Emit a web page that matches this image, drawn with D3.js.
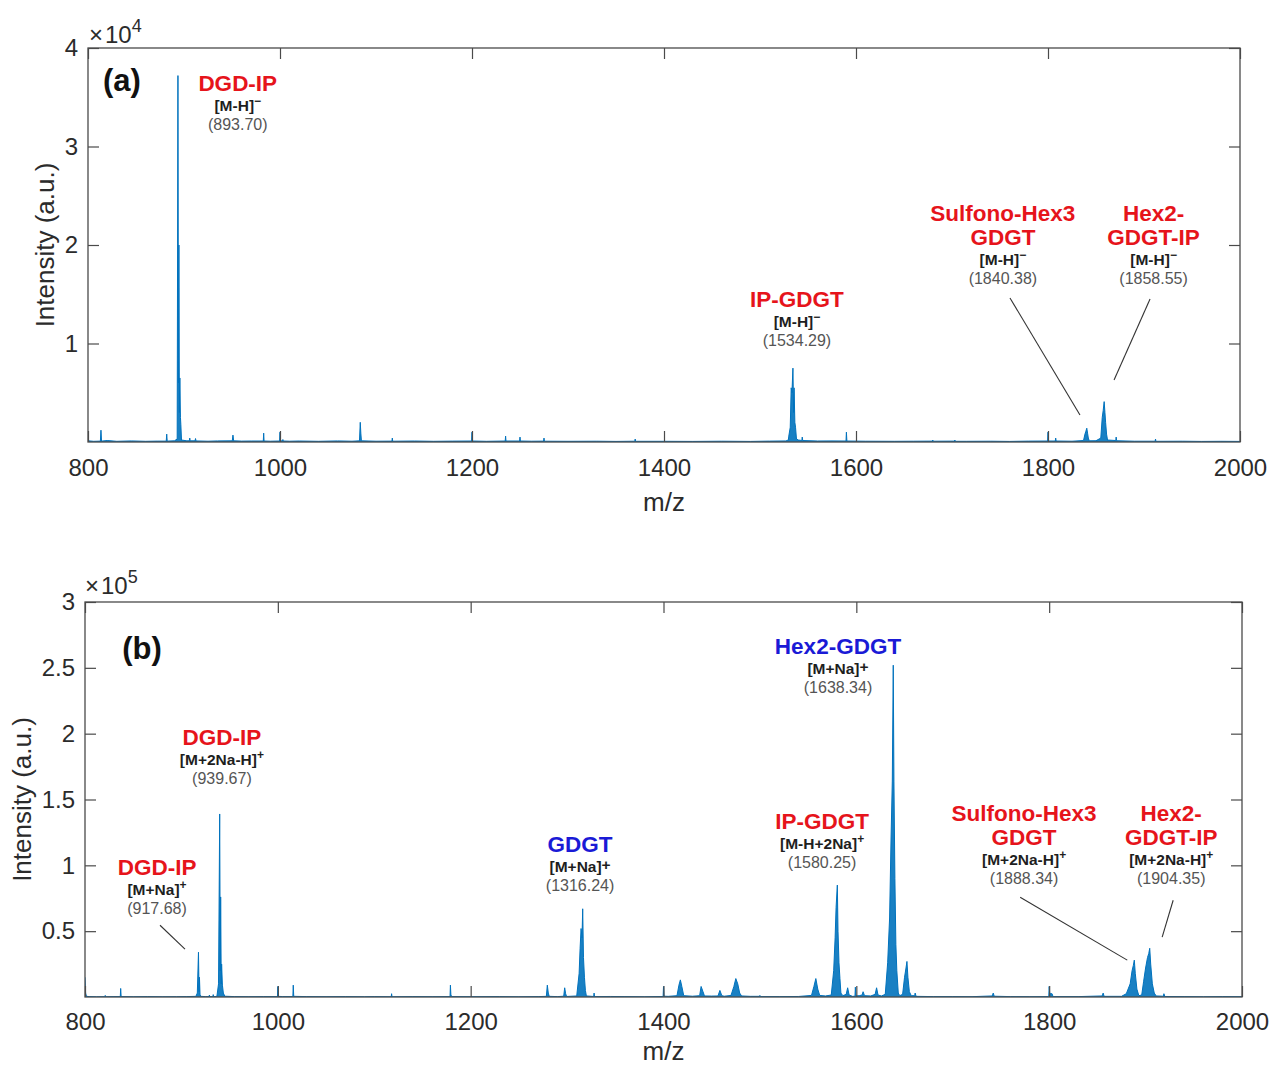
<!DOCTYPE html>
<html>
<head>
<meta charset="utf-8">
<script src="https://cdn.jsdelivr.net/npm/d3@7"></script>
<style>
  body { margin: 0; background: #fff; }
  text { font-family: "Liberation Sans", Arial, Helvetica, sans-serif; }
</style>
</head>
<body>
<svg id="fig" width="1271" height="1068"></svg>
<script>
// ---------------------------------------------------------------
// Spectrum (a), negative ion mode: [m/z, intensity]
const spectrumA = [
  [800,120],[806,70],[812.9,90],[813.5,1200],[814.1,90],[820,150],[830,70],[845,110],
  [860,70],[872,90],[881.5,90],[882,800],[882.5,90],[890,120],[892.9,300],
  [893.7,37200],[894.2,6000],[894.7,20000],[895.2,3000],[895.7,6500],[896.3,2500],
  [896.7,1800],[897.4,200],[903,120],[905.5,120],[906,400],[906.5,120],[911.5,120],
  [912,350],[912.5,110],[925,80],[935,110],[950.3,120],[951,700],[951.7,120],[960,90],
  [970,100],[982.6,100],[983,900],[983.4,100],[990,80],[999.6,100],[1000,1000],
  [1000.4,120],[1002.6,110],[1003,250],[1003.4,100],[1010,80],[1020,100],[1040,70],
  [1060,110],[1075,80],[1082.8,120],[1083.6,2000],[1084.2,900],[1084.8,120],[1100,80],
  [1116.6,90],[1117,400],[1117.4,80],[1140,100],[1160,70],[1180,90],[1199.6,100],
  [1200,1000],[1200.4,100],[1215,70],[1234.6,100],[1235,600],[1235.4,100],[1249.6,100],
  [1250,500],[1250.4,100],[1262,80],[1274.6,90],[1275,400],[1275.4,80],[1300,70],
  [1330,80],[1350,60],[1369.6,80],[1370,300],[1370.4,70],[1400,70],[1430,60],[1460,80],
  [1490,60],[1510,90],[1527,110],[1529.5,200],[1530,600],[1531.5,1500],[1532.5,5500],
  [1533.3,5000],[1534.3,7500],[1535,3000],[1535.5,5500],[1536.3,2000],[1537,1500],
  [1538,300],[1540,200],[1543.6,150],[1544,500],[1544.5,150],[1560,100],[1575,110],
  [1589.6,100],[1590,1000],[1590.5,100],[1610,80],[1640,70],[1660,80],[1679.6,90],
  [1680,200],[1680.4,80],[1702.6,90],[1703,200],[1703.4,70],[1715,70],[1740,80],
  [1760,60],[1780,90],[1799.6,100],[1800,1000],[1800.5,100],[1807.6,100],[1808,400],
  [1808.5,100],[1825,80],[1837,150],[1838.5,800],[1839.5,1100],[1840.4,1400],
  [1841.2,900],[1842,400],[1843,120],[1850,130],[1855,400],[1856.5,2500],[1857.5,3200],
  [1858.5,4100],[1859.3,3000],[1860,2000],[1861,800],[1862,200],[1870.6,150],
  [1871,500],[1871.5,130],[1890,80],[1911.6,80],[1912,300],[1912.4,70],[1940,80],
  [1960,60],[1980,70],[2000,60]
];

// Spectrum (b), positive ion mode: [m/z, intensity]
const spectrumB = [
  [800,15000],[800.6,3000],[801.5,500],[805,300],[812,200],[820.6,250],[821,1200],
  [821.4,200],[830,300],[836.6,300],[837,6500],[837.5,300],[850,200],[865,300],
  [880,200],[895,250],[905,300],[915,500],[916.5,3000],[917.7,34000],[918.3,4000],
  [918.7,15000],[919.3,2000],[920,500],[925,300],[928.6,300],[929,1500],[929.4,300],
  [932.6,300],[933,1800],[933.4,300],[936.6,400],[937,1500],[938.5,10000],
  [939.7,139000],[940.3,20000],[940.7,76000],[941.3,10000],[941.7,25000],[942.5,9000],
  [943.5,3000],[945,600],[955,300],[970,250],[985,300],[999.6,300],[1000,8000],
  [1000.5,500],[1005,300],[1015.6,300],[1016,9000],[1016.5,500],[1030,300],[1050,250],
  [1070,300],[1090,200],[1100,300],[1117.6,200],[1118,2500],[1118.4,200],[1140,300],
  [1160,250],[1178.6,300],[1179,9000],[1179.5,1500],[1180.5,300],[1200,250],[1230,300],
  [1250,200],[1270,300],[1278.5,500],[1279.5,9000],[1280.5,3000],[1281.5,500],
  [1290,300],[1296.5,600],[1297.5,7000],[1298.5,2500],[1299.5,400],[1310,800],
  [1312.5,18000],[1313.5,37000],[1314.5,52000],[1315.5,45000],[1316.2,67000],
  [1317,30000],[1318,15000],[1319,5000],[1320,800],[1327.6,400],[1328,3000],
  [1328.5,300],[1345,400],[1360,300],[1380,200],[1399.6,400],[1400,8000],[1400.5,600],
  [1405,500],[1414,1000],[1416,9000],[1417.5,13000],[1419,8000],[1421,1000],[1430,600],
  [1437.5,1000],[1439,8000],[1441,4000],[1442.5,800],[1450,700],[1456.5,800],
  [1458.5,5000],[1460.5,1000],[1463,600],[1470,1200],[1473,8000],[1475,14000],
  [1477,10000],[1479,3000],[1481,800],[1490,500],[1499.6,500],[1500,1200],[1500.5,300],
  [1520,300],[1540,400],[1553.5,1200],[1556,8000],[1558,14000],[1560,6000],
  [1562,1200],[1568,800],[1574,1500],[1576.5,20000],[1578,45000],[1579,68000],
  [1580.3,85000],[1581,50000],[1582,26000],[1583,14000],[1584,3000],[1586,1000],
  [1589.5,2000],[1591,7000],[1592.5,1500],[1596,500],[1598.6,600],[1599,7500],
  [1599.5,800],[1603,1000],[1606,1500],[1607,4000],[1608.5,1000],[1615,800],
  [1619.5,2000],[1621,7000],[1622.5,1500],[1626,800],[1630,2000],[1632.5,26000],
  [1634.5,60000],[1636,120000],[1637.3,164000],[1638.3,252000],[1639,164000],
  [1640,90000],[1641,40000],[1642,20000],[1643.5,3000],[1645,1000],[1648,2000],
  [1650,15000],[1651.5,22000],[1652.5,27000],[1653.5,15000],[1655,4000],[1657,1000],
  [1660.5,1000],[1661,3000],[1662,500],[1680,300],[1700,300],[1720,250],[1741,800],
  [1742,3000],[1743,600],[1760,300],[1780,250],[1799.6,300],[1800,8000],[1800.6,2500],
  [1803,2500],[1804,300],[1830,300],[1855,800],[1856,3000],[1857,500],[1875,500],
  [1880,2500],[1884,10000],[1886,20000],[1887.3,24000],[1888.3,28000],[1889.3,18000],
  [1891,6000],[1893,1000],[1896,1500],[1898,12000],[1900,22000],[1902,30000],
  [1903.3,33000],[1904.3,37000],[1905.3,25000],[1907,10000],[1909,3000],[1911,800],
  [1918.5,600],[1919,2500],[1920,400],[1940,300],[1960,200],[1980,300],[2000,250]
];

// Axis ticks
const xTicks = [800, 1000, 1200, 1400, 1600, 1800, 2000];
const yTicksA = [10000, 20000, 30000, 40000];
const yTicksB = [50000, 100000, 150000, 200000, 250000, 300000];

// Peak annotations: compound name (one or two lines), ion, observed m/z
const peaksA = [
  { name: ["DGD-IP"], ion: "[M-H]", charge: "\u2212", sup: true, mz: "(893.70)", kind: "red" },
  { name: ["IP-GDGT"], ion: "[M-H]", charge: "\u2212", sup: true, mz: "(1534.29)", kind: "red" },
  { name: ["Sulfono-Hex3", "GDGT"], ion: "[M-H]", charge: "\u2212", sup: true, mz: "(1840.38)", kind: "red" },
  { name: ["Hex2-", "GDGT-IP"], ion: "[M-H]", charge: "\u2212", sup: true, mz: "(1858.55)", kind: "red" }
];
const peaksB = [
  { name: ["DGD-IP"], ion: "[M+2Na-H]", charge: "+", sup: true, mz: "(939.67)", kind: "red" },
  { name: ["DGD-IP"], ion: "[M+Na]", charge: "+", sup: true, mz: "(917.68)", kind: "red" },
  { name: ["GDGT"], ion: "[M+Na]", charge: "+", sup: false, mz: "(1316.24)", kind: "blue" },
  { name: ["Hex2-GDGT"], ion: "[M+Na]", charge: "+", sup: false, mz: "(1638.34)", kind: "blue" },
  { name: ["IP-GDGT"], ion: "[M-H+2Na]", charge: "+", sup: true, mz: "(1580.25)", kind: "red" },
  { name: ["Sulfono-Hex3", "GDGT"], ion: "[M+2Na-H]", charge: "+", sup: true, mz: "(1888.34)", kind: "red" },
  { name: ["Hex2-", "GDGT-IP"], ion: "[M+2Na-H]", charge: "+", sup: true, mz: "(1904.35)", kind: "red" }
];

// ---------------------------------------------------------------
// Layout: label anchors (centre, first baseline) and leader lines, in data units
const anchorsA = [[956, 35630], [1538.5, 13700], [1753, 22400], [1910, 22400]];
const leadersA = [
  [[1760.4, 14620], [1833.3, 2740]],
  [[1906.3, 14520], [1868.8, 6300]]
];
const anchorsB = [[942, 191700], [874.7, 92400], [1313.5, 109800], [1581, 260600],
                  [1564.5, 127300], [1774, 133300], [1926.6, 133300]];
const leadersB = [
  [[877.8, 54500], [903.7, 36400]],
  [[1769.9, 75800], [1881, 28000]],
  [[1928.6, 73500], [1917.2, 45450]]
];

const colors = { red: "#e6141b", blue: "#1a1ad6", line: "#0072BD", axis: "#4a4a4a", text: "#2b2b2b" };

const svg = d3.select("#fig");
svg.append("rect").attr("width", 1271).attr("height", 1068).attr("fill", "#fff");

function drawPanel(cfg) {
  const { box, data, yMax, yTicks, expo, tag, peaks, anchors, leaders, id } = cfg;
  const x = d3.scaleLinear().domain([800, 2000]).range([box.left, box.right]);
  const y = d3.scaleLinear().domain([0, yMax]).range([box.bottom, box.top]);
  const g = svg.append("g");

  g.append("clipPath").attr("id", id)
    .append("rect").attr("x", box.left).attr("y", box.top)
    .attr("width", box.right - box.left).attr("height", box.bottom - box.top);

  const plot = g.append("g").attr("clip-path", `url(#${id})`);
  const area = d3.area().x(d => x(d[0])).y0(y(0)).y1(d => y(d[1]));
  const line = d3.line().x(d => x(d[0])).y(d => y(d[1]));
  plot.append("path").datum(data).attr("d", area).attr("fill", colors.line).attr("opacity", 0.9);
  plot.append("path").datum(data).attr("d", line).attr("fill", "none")
    .attr("stroke", colors.line).attr("stroke-width", 1);

  const tick = 11;
  const fmt = d => d3.format("~g")(d / expo.scale);

  const xb = g.append("g").attr("transform", `translate(0,${box.bottom})`)
    .call(d3.axisBottom(x).tickValues(xTicks).tickSizeInner(-tick).tickSizeOuter(0)
      .tickPadding(cfg.xPad).tickFormat(d3.format("d")));
  const xt = g.append("g").attr("transform", `translate(0,${box.top})`)
    .call(d3.axisTop(x).tickValues(xTicks).tickSizeInner(-tick).tickSizeOuter(0).tickFormat(""));
  const yl = g.append("g").attr("transform", `translate(${box.left},0)`)
    .call(d3.axisLeft(y).tickValues(yTicks).tickSizeInner(-tick).tickSizeOuter(0).tickPadding(10).tickFormat(fmt));
  const yr = g.append("g").attr("transform", `translate(${box.right},0)`)
    .call(d3.axisRight(y).tickValues(yTicks).tickSizeInner(-tick).tickSizeOuter(0).tickFormat(""));
  [xb, xt, yl, yr].forEach(a => {
    a.select(".domain").remove();
    a.selectAll(".tick line").attr("stroke", colors.axis).attr("stroke-width", 1.2);
    a.selectAll("text").attr("font-size", 24).attr("fill", colors.text)
      .attr("font-family", '"Liberation Sans", Arial, sans-serif');
  });

  g.append("rect").attr("x", box.left).attr("y", box.top)
    .attr("width", box.right - box.left).attr("height", box.bottom - box.top)
    .attr("fill", "none").attr("stroke", colors.axis).attr("stroke-width", 1.3);

  // exponent marker above the y axis
  const ex = g.append("text").attr("x", expo.x).attr("y", expo.y)
    .attr("font-size", 24).attr("fill", colors.text);
  ex.append("tspan").text("\u00d7");
  ex.append("tspan").attr("dx", 2).text("10");
  ex.append("tspan").attr("dy", -11).attr("font-size", 18).text(expo.power);

  // axis titles
  g.append("text").attr("x", (box.left + box.right) / 2).attr("y", cfg.xTitleY)
    .attr("text-anchor", "middle").attr("font-size", 26).attr("fill", colors.text).text("m/z");
  g.append("text").attr("transform", `translate(${cfg.yTitleX},${(box.top + box.bottom) / 2}) rotate(-90)`)
    .attr("text-anchor", "middle").attr("font-size", 26).attr("fill", colors.text).text("Intensity (a.u.)");

  // panel tag
  g.append("text").attr("x", tag.x).attr("y", tag.y).attr("text-anchor", "middle")
    .attr("font-size", 31).attr("font-weight", "bold").attr("fill", "#111").text(tag.text);

  // leader lines
  leaders.forEach(([a, b]) => {
    g.append("line").attr("x1", x(a[0])).attr("y1", y(a[1]))
      .attr("x2", x(b[0])).attr("y2", y(b[1]))
      .attr("stroke", "#333").attr("stroke-width", 1.1);
  });

  // peak labels
  peaks.forEach((p, i) => {
    const cx = x(anchors[i][0]);
    let by = y(anchors[i][1]);
    p.name.forEach((ln, k) => {
      g.append("text").attr("x", cx).attr("y", by + k * 24).attr("text-anchor", "middle")
        .attr("font-size", 22.5).attr("font-weight", "bold").attr("fill", colors[p.kind]).text(ln);
    });
    by += (p.name.length - 1) * 24 + 20;
    const ion = g.append("text").attr("x", cx).attr("y", by).attr("text-anchor", "middle")
      .attr("font-size", 15.5).attr("font-weight", "bold").attr("fill", "#1e1e1e");
    ion.append("tspan").text(p.ion);
    if (p.sup) {
      ion.append("tspan").attr("dy", -6).attr("font-size", 12).text(p.charge);
    } else {
      ion.append("tspan").attr("dy", -2).text(p.charge);
    }
    g.append("text").attr("x", cx).attr("y", by + 19).attr("text-anchor", "middle")
      .attr("font-size", 16).attr("fill", "#555").text(p.mz);
  });
}

drawPanel({
  id: "clipA",
  box: { left: 88, right: 1240, top: 48, bottom: 442 },
  data: spectrumA, yMax: 40000, yTicks: yTicksA,
  expo: { scale: 10000, power: "4", x: 89, y: 43 },
  tag: { text: "(a)", x: 122, y: 91 },
  xPad: 17, xTitleY: 511, yTitleX: 54,
  peaks: peaksA, anchors: anchorsA, leaders: leadersA
});

drawPanel({
  id: "clipB",
  box: { left: 85, right: 1242, top: 602, bottom: 997 },
  data: spectrumB, yMax: 300000, yTicks: yTicksB,
  expo: { scale: 100000, power: "5", x: 85, y: 594 },
  tag: { text: "(b)", x: 142, y: 659 },
  xPad: 16, xTitleY: 1060, yTitleX: 31,
  peaks: peaksB, anchors: anchorsB, leaders: leadersB
});
</script>
</body>
</html>
